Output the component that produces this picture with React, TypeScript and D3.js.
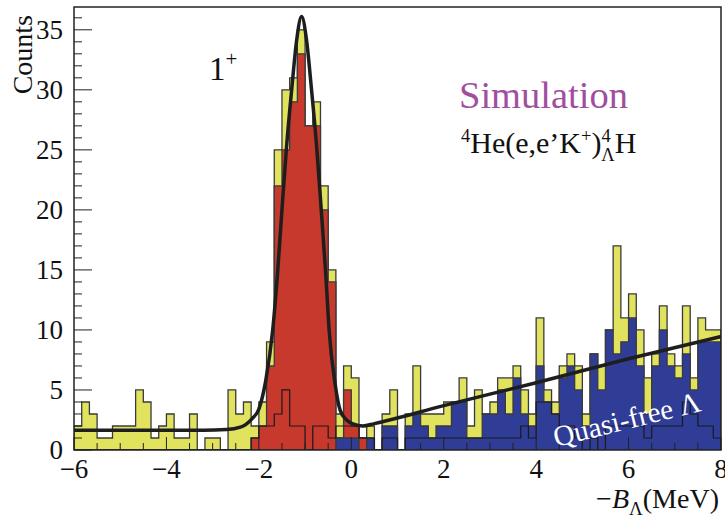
import React from 'react';
import * as d3 from 'd3';

// histogram binning: 84 bins of 1/6 MeV from -6 to 8
const binLow = -6;
const binHigh = 8;
const nBins = 84;

// total (accidental + 1+ + QF), drawn yellow
const totalCounts = [
  2, 4, 3, 1, 1, 2, 2, 2, 5, 4,
  1, 2, 3, 1, 1, 3, 0, 1, 1, 0,
  5, 3, 4, 2, 4, 9, 25, 30, 31, 35,
  27, 29, 22, 15, 3, 7, 6, 1, 2, 0,
  3, 5, 0, 3, 7, 3, 3, 3, 4, 4,
  6, 2, 5, 3, 4, 6, 6, 7, 5, 3,
  11, 5, 4, 7, 8, 7, 3, 8, 7, 10,
  17, 11, 13, 10, 6, 8, 12, 8, 7, 12,
  6, 11, 10, 10,
];

// 1+ state (red)
const stateCounts = [
  0, 0, 0, 0, 0, 0, 0, 0, 0, 0,
  0, 0, 0, 0, 0, 0, 0, 0, 0, 0,
  0, 0, 0, 1, 2, 7, 22, 25, 29, 33,
  27, 27, 20, 14, 1, 5, 2, 1, 0, 0,
  0, 0, 0, 0, 0, 0, 0, 0, 0, 0,
  0, 0, 0, 0, 0, 0, 0, 0, 0, 0,
  0, 0, 0, 0, 0, 0, 0, 0, 0, 0,
  0, 0, 0, 0, 0, 0, 0, 0, 0, 0,
  0, 0, 0, 0,
];

// quasi-free Lambda (blue)
const qfCounts = [
  0, 0, 0, 0, 0, 0, 0, 0, 0, 0,
  0, 0, 0, 0, 0, 0, 0, 0, 0, 0,
  0, 0, 0, 0, 0, 0, 0, 0, 0, 0,
  0, 0, 0, 0, 1, 1, 1, 0, 1, 0,
  2, 2, 0, 2, 3, 2, 1, 2, 2, 4,
  4, 1, 1, 3, 3, 5, 3, 6, 3, 2,
  7, 4, 3, 6, 7, 5, 2, 8, 5, 10,
  8, 9, 11, 7, 3, 7, 10, 7, 6, 8,
  5, 9, 9, 9,
];

// unfilled black histogram
const openCounts = [
  0, 0, 0, 0, 0, 0, 0, 0, 0, 0,
  0, 0, 0, 0, 0, 0, 0, 0, 0, 0,
  0, 0, 0, 1, 2, 2, 3, 5, 2, 2,
  0, 2, 2, 1, 2, 2, 2, 1, 1, 0,
  1, 1, 0, 1, 1, 1, 1, 1, 1, 1,
  1, 1, 1, 1, 1, 1, 1, 1, 2, 1,
  4, 4, 3, 2, 2, 1, 0, 1, 0, 2,
  2, 2, 2, 2, 1, 2, 2, 2, 2, 4,
  3, 2, 2, 1,
];

// fit curve
const fitX = [-6, -3.2, -2.7, -2.4, -2.15, -2.0, -1.85, -1.7, -1.6, -1.5, -1.4, -1.29, -1.18, -1.075,
  -0.97, -0.86, -0.75, -0.65, -0.55, -0.48, -0.35, -0.24, -0.1, 0.05, 0.25, 0.5, 2, 4, 6, 8];
const fitY = [1.65, 1.65, 1.7, 1.9, 2.6, 3.4, 5.8, 10, 14.5, 20, 25.3, 30, 34.2, 36.1,
  34.2, 30, 25.3, 20, 14.5, 10, 5.5, 3.3, 2.5, 2.15, 2.0, 2.2, 3.7, 5.6, 7.6, 9.45];

const xMajor = [-6, -4, -2, 0, 2, 4, 6, 8];
const yMajor = [0, 5, 10, 15, 20, 25, 30, 35];

const W = 725;
const H = 520;
const frame = { left: 74, right: 721, top: 7, bottom: 450 };
const font = '"Liberation Serif", "Times New Roman", serif';

export default function App() {
  const x = d3.scaleLinear().domain([binLow, binHigh]).range([frame.left, frame.right]);
  const y = d3.scaleLinear().domain([0, 36.9]).range([frame.bottom, frame.top]);
  const bw = (binHigh - binLow) / nBins;

  const stepPath = (vals: number[]) => {
    const pts: [number, number][] = [[x(binLow), y(0)]];
    vals.forEach((v, i) => {
      pts.push([x(binLow + i * bw), y(v)], [x(binLow + (i + 1) * bw), y(v)]);
    });
    pts.push([x(binHigh), y(0)]);
    return d3.line()(pts) as string;
  };

  const fitLine = d3.line<number>()
    .x((_, i) => x(fitX[i]))
    .y((d) => y(d))
    .curve(d3.curveMonotoneX)(fitY) as string;

  const xMinor = d3.range(-6, 8.01, 0.5).filter((v) => !xMajor.includes(v));
  const yMinor = d3.range(0, 37, 1).filter((v) => !yMajor.includes(v));

  const lineCol = '#3a3a3a';

  return (
    <svg width={W} height={H} style={{ position: 'absolute', left: 0, top: 0, background: '#fff' }}
      fontFamily={font}>
      <defs>
        <clipPath id="plot">
          <rect x={frame.left} y={frame.top} width={frame.right - frame.left} height={frame.bottom - frame.top} />
        </clipPath>
      </defs>
      <g clipPath="url(#plot)">
        <path d={stepPath(totalCounts)} fill="#e1e35e" stroke={lineCol} strokeWidth={1.3} />
        <path d={stepPath(stateCounts)} fill="#c6392c" stroke={lineCol} strokeWidth={1.3} />
        <path d={stepPath(qfCounts)} fill="#2f3d97" stroke={lineCol} strokeWidth={1.3} />
        <path d={stepPath(openCounts)} fill="none" stroke="#1a1a1a" strokeWidth={1.2} />
        <path d={fitLine} fill="none" stroke="#1e1e1e" strokeWidth={3.5} />
      </g>

      {/* ticks */}
      <g stroke="#222" strokeWidth={1}>
        {xMajor.map((v) => (
          <line key={'xM' + v} x1={x(v)} x2={x(v)} y1={frame.bottom} y2={frame.bottom - 13} />
        ))}
        {xMinor.map((v) => (
          <line key={'xm' + v} x1={x(v)} x2={x(v)} y1={frame.bottom} y2={frame.bottom - 7} />
        ))}
        {yMajor.map((v) => (
          <line key={'yM' + v} x1={frame.left} x2={frame.left + 18} y1={y(v)} y2={y(v)} />
        ))}
        {yMinor.map((v) => (
          <line key={'ym' + v} x1={frame.left} x2={frame.left + 8} y1={y(v)} y2={y(v)} />
        ))}
      </g>
      <rect x={frame.left} y={frame.top} width={frame.right - frame.left} height={frame.bottom - frame.top}
        fill="none" stroke="#222" strokeWidth={1.5} />

      {/* tick labels */}
      <g fontSize={27} fill="#111">
        {xMajor.map((v) => (
          <text key={'xl' + v} x={x(v)} y={478} textAnchor="middle">
            {v < 0 ? '\u2212' + Math.abs(v) : String(v)}
          </text>
        ))}
        {yMajor.map((v) => (
          <text key={'yl' + v} x={63} y={y(v) + 9} textAnchor="end">{v}</text>
        ))}
      </g>

      {/* axis titles */}
      <text transform="translate(32,15) rotate(-90)" textAnchor="end" fontSize={28} fill="#111">Counts</text>
      <text x={719} y={508} textAnchor="end" fontSize={28} fill="#111">
        {'\u2212'}<tspan fontStyle="italic">B</tspan>
        <tspan fontSize={19} dy={7}>{'\u039B'}</tspan>
        <tspan dy={-7}>(MeV)</tspan>
      </text>

      {/* annotations */}
      <text x={209} y={80} fontSize={33} fill="#111">
        1<tspan fontSize={21} dy={-14}>+</tspan>
      </text>
      <text x={459} y={108} fontSize={38.5} fill="#a24e9f">Simulation</text>
      <text x={461} y={153} fontSize={30} fill="#111">
        <tspan fontSize={18.5} dy={-11}>4</tspan>
        <tspan dy={11}>He(e,e’K</tspan>
        <tspan fontSize={18.5} dy={-11}>+</tspan>
        <tspan dy={11}>)</tspan>
        <tspan fontSize={18.5} dy={-11}>4</tspan>
        <tspan fontSize={18.5} dx={-9.5} dy={19}>{'\u039B'}</tspan>
        <tspan dy={-8}>H</tspan>
      </text>
      <text transform="translate(556,447) rotate(-14)" fontSize={29} fill="#fff">Quasi-free {'\u039B'}</text>
    </svg>
  );
}
